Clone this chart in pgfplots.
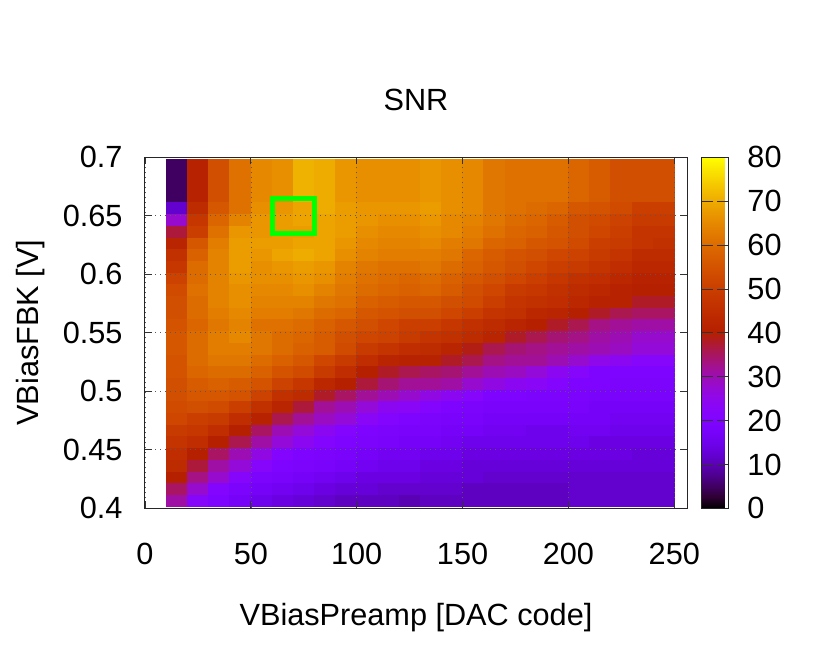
\documentclass[border=0pt]{standalone}
\usepackage{fontspec}
\setmainfont{Liberation Sans}
\usepackage{pgfplots}
\usepackage{pgfplotstable}
\pgfplotsset{compat=1.18}

% one number per cell, bottom row first, 24 cells + closing vertex per row
\pgfplotstableread[row sep=\\,header=false]{
31\\22\\20\\17\\15\\14\\13\\12\\11\\11\\11\\10\\11\\11\\11\\11\\11\\11\\11\\12\\12\\12\\12\\12\\12\\
35\\28\\21\\19\\17\\16\\15\\14\\13\\13\\12\\12\\12\\12\\11\\11\\11\\11\\11\\12\\12\\12\\12\\12\\12\\
40\\33\\28\\22\\19\\18\\17\\16\\15\\14\\14\\14\\13\\13\\13\\12\\12\\12\\12\\12\\12\\12\\12\\12\\12\\
44\\37\\31\\27\\22\\20\\19\\18\\17\\16\\15\\15\\14\\14\\13\\13\\13\\13\\13\\13\\13\\13\\13\\13\\13\\
45\\40\\35\\30\\26\\21\\20\\19\\18\\17\\16\\16\\15\\15\\14\\14\\14\\14\\14\\14\\14\\14\\13\\13\\13\\
47\\45\\40\\36\\31\\27\\24\\21\\20\\19\\18\\17\\17\\16\\15\\15\\15\\15\\15\\15\\14\\14\\14\\14\\14\\
49\\48\\45\\40\\35\\30\\27\\24\\21\\20\\19\\18\\18\\17\\17\\16\\16\\15\\15\\16\\16\\15\\15\\15\\15\\
52\\50\\49\\45\\41\\36\\32\\29\\27\\23\\21\\20\\19\\18\\18\\17\\17\\17\\17\\17\\17\\16\\16\\16\\16\\
53\\54\\53\\50\\46\\42\\37\\32\\30\\27\\24\\23\\21\\20\\19\\18\\18\\18\\18\\18\\17\\17\\17\\17\\17\\
54\\56\\56\\55\\51\\46\\44\\38\\35\\32\\30\\28\\26\\24\\22\\20\\20\\19\\19\\19\\18\\18\\18\\18\\18\\
54\\57\\58\\57\\55\\51\\48\\43\\40\\37\\34\\32\\32\\31\\28\\26\\24\\23\\21\\20\\20\\19\\19\\19\\19\\
55\\59\\60\\60\\58\\55\\53\\49\\45\\40\\38\\36\\35\\34\\32\\30\\29\\27\\24\\22\\20\\20\\20\\20\\20\\
55\\60\\62\\62\\60\\58\\56\\52\\49\\45\\42\\41\\41\\38\\36\\33\\32\\32\\30\\28\\25\\24\\22\\22\\22\\
56\\60\\63\\63\\62\\60\\58\\57\\53\\49\\47\\45\\44\\42\\39\\36\\34\\33\\32\\31\\30\\29\\27\\27\\27\\
56\\60\\63\\65\\62\\60\\59\\57\\54\\52\\51\\49\\47\\46\\44\\42\\38\\36\\34\\33\\31\\30\\28\\28\\28\\
55\\59\\62\\64\\61\\61\\60\\58\\56\\54\\52\\50\\50\\48\\46\\44\\42\\40\\38\\36\\33\\32\\31\\31\\31\\
54\\60\\63\\65\\63\\63\\62\\60\\59\\56\\55\\54\\54\\52\\50\\47\\46\\43\\42\\40\\38\\36\\35\\35\\35\\
54\\60\\64\\66\\64\\64\\64\\62\\61\\58\\57\\56\\56\\54\\53\\50\\47\\46\\45\\43\\41\\41\\38\\38\\38\\
53\\61\\64\\66\\65\\65\\66\\64\\62\\60\\59\\58\\59\\57\\54\\52\\49\\48\\46\\44\\43\\41\\40\\40\\40\\
51\\60\\64\\67\\66\\66\\67\\66\\63\\61\\60\\59\\60\\58\\56\\54\\52\\50\\48\\46\\45\\43\\41\\41\\41\\
48\\60\\64\\68\\66\\67\\68\\67\\64\\62\\61\\61\\62\\60\\58\\56\\54\\52\\50\\49\\47\\45\\43\\43\\43\\
46\\58\\64\\68\\67\\69\\70\\69\\66\\64\\63\\63\\63\\62\\59\\57\\55\\54\\52\\51\\49\\47\\44\\44\\44\\
42\\56\\63\\68\\68\\68\\69\\69\\67\\65\\64\\64\\65\\63\\62\\59\\58\\56\\55\\53\\50\\49\\47\\46\\46\\
37\\50\\61\\67\\67\\68\\68\\69\\68\\66\\65\\65\\66\\65\\63\\61\\59\\58\\56\\54\\52\\50\\47\\47\\47\\
28\\48\\59\\64\\67\\68\\69\\69\\68\\67\\66\\66\\67\\65\\64\\62\\60\\59\\57\\54\\53\\51\\49\\49\\49\\
12\\44\\56\\61\\66\\67\\69\\70\\68\\67\\67\\67\\68\\66\\65\\62\\61\\60\\59\\56\\55\\53\\50\\50\\50\\
5\\41\\54\\61\\65\\66\\71\\70\\67\\66\\66\\66\\67\\66\\65\\62\\61\\61\\61\\59\\57\\54\\54\\54\\54\\
5\\41\\54\\61\\65\\66\\71\\70\\67\\66\\66\\66\\67\\66\\65\\62\\61\\61\\61\\59\\57\\54\\54\\54\\54\\
}\snrdata

\pgfplotsset{
  colormap={pmthreed}{
    rgb=(0,0,0) rgb=(.177,0,.195) rgb=(.25,0,.383) rgb=(.306,.001,.556)
    rgb=(.354,.002,.707) rgb=(.395,.004,.831) rgb=(.433,.007,.924) rgb=(.468,.011,.981)
    rgb=(.5,.016,1) rgb=(.53,.022,.981) rgb=(.559,.031,.924) rgb=(.586,.041,.831)
    rgb=(.612,.053,.707) rgb=(.637,.067,.556) rgb=(.661,.084,.383) rgb=(.685,.103,.195)
    rgb=(.707,.125,0) rgb=(.729,.15,0) rgb=(.75,.178,0) rgb=(.771,.209,0)
    rgb=(.791,.244,0) rgb=(.81,.283,0) rgb=(.829,.325,0) rgb=(.848,.371,0)
    rgb=(.866,.422,0) rgb=(.884,.477,0) rgb=(.901,.536,0) rgb=(.919,.601,0)
    rgb=(.935,.67,0) rgb=(.952,.744,0) rgb=(.968,.824,0) rgb=(.984,.909,0)
    rgb=(1,1,0)
  },
}

\begin{document}
\begin{tikzpicture}
\begin{axis}[
    set layers=axis on top,
    at={(0,0)}, anchor=south west,
    scale only axis,
    width=325.2pt, height=210.6pt,
    xmin=0, xmax=256, ymin=0.4, ymax=0.7,
    xtick={0,50,100,150,200,250},
    ytick={0.4,0.45,0.5,0.55,0.6,0.65,0.7},
    yticklabels={0.4,0.45,0.5,0.55,0.6,0.65,0.7},
    tick align=inside, tick pos=both,
    major tick length=4.2pt,
    tick style={black!80, line width=0.5pt},
    axis line style={black!85, line width=0.6pt},
    grid=major,
    grid style={black!65, line width=0.4pt, dash pattern=on 0.5pt off 2.5pt},
    font=\fontsize{18.4}{22}\selectfont,
    tick label style={font=\fontsize{18.4}{22}\selectfont},
    /pgf/number format/assume math mode=true,
    xticklabel style={yshift=-17.5pt},
    yticklabel style={xshift=-10pt},
    title={SNR},
    title style={at={(0.5,1)}, anchor=base, yshift=22pt},
    xlabel={VBiasPreamp [DAC code]},
    xlabel style={at={(0.5,0)}, anchor=base, yshift=-70.6pt},
    ylabel={VBiasFBK [V]},
    ylabel style={at={(0,0.5)}, anchor=base, rotate=0, yshift=64pt},
    colormap name=pmthreed,
    point meta min=0, point meta max=80,
    colorbar,
    colorbar style={
      at={(parent axis.north east)}, anchor=north west,
      xshift=0pt,
      width=16.2pt, height=210.6pt,
      ytick={0,10,...,80},
      ytick pos=both, yticklabel pos=right,
      ytick align=inside,
      major tick length=7pt,
      /pgf/number format/assume math mode=true,
      yticklabel style={font=\fontsize{18.4}{22}\selectfont, xshift=8pt},
      axis line style={black!85, line width=0.6pt},
    },
]
\addplot[surf, shader=flat corner, mesh/cols=25, mesh/rows=28, mesh/ordering=x varies, point meta=explicit]
  table[x index=0, y index=0,
        x expr={10+10*mod(\coordindex,25)},
        y expr={ifthenelse(\coordindex<675,0.402+0.01*floor((\coordindex+0.5)/25),0.698)},
        meta index=0] {\snrdata};
% best working point
\addplot[on layer=axis foreground, color=green, line width=3pt, line join=miter, no markers]
  coordinates {(60,0.635) (80,0.635) (80,0.665) (60,0.665) (60,0.635) (80,0.635)};
\end{axis}
\pgfresetboundingbox
\useasboundingbox (-87pt,-93.4pt) rectangle (411pt,305pt);
\end{tikzpicture}
\end{document}
